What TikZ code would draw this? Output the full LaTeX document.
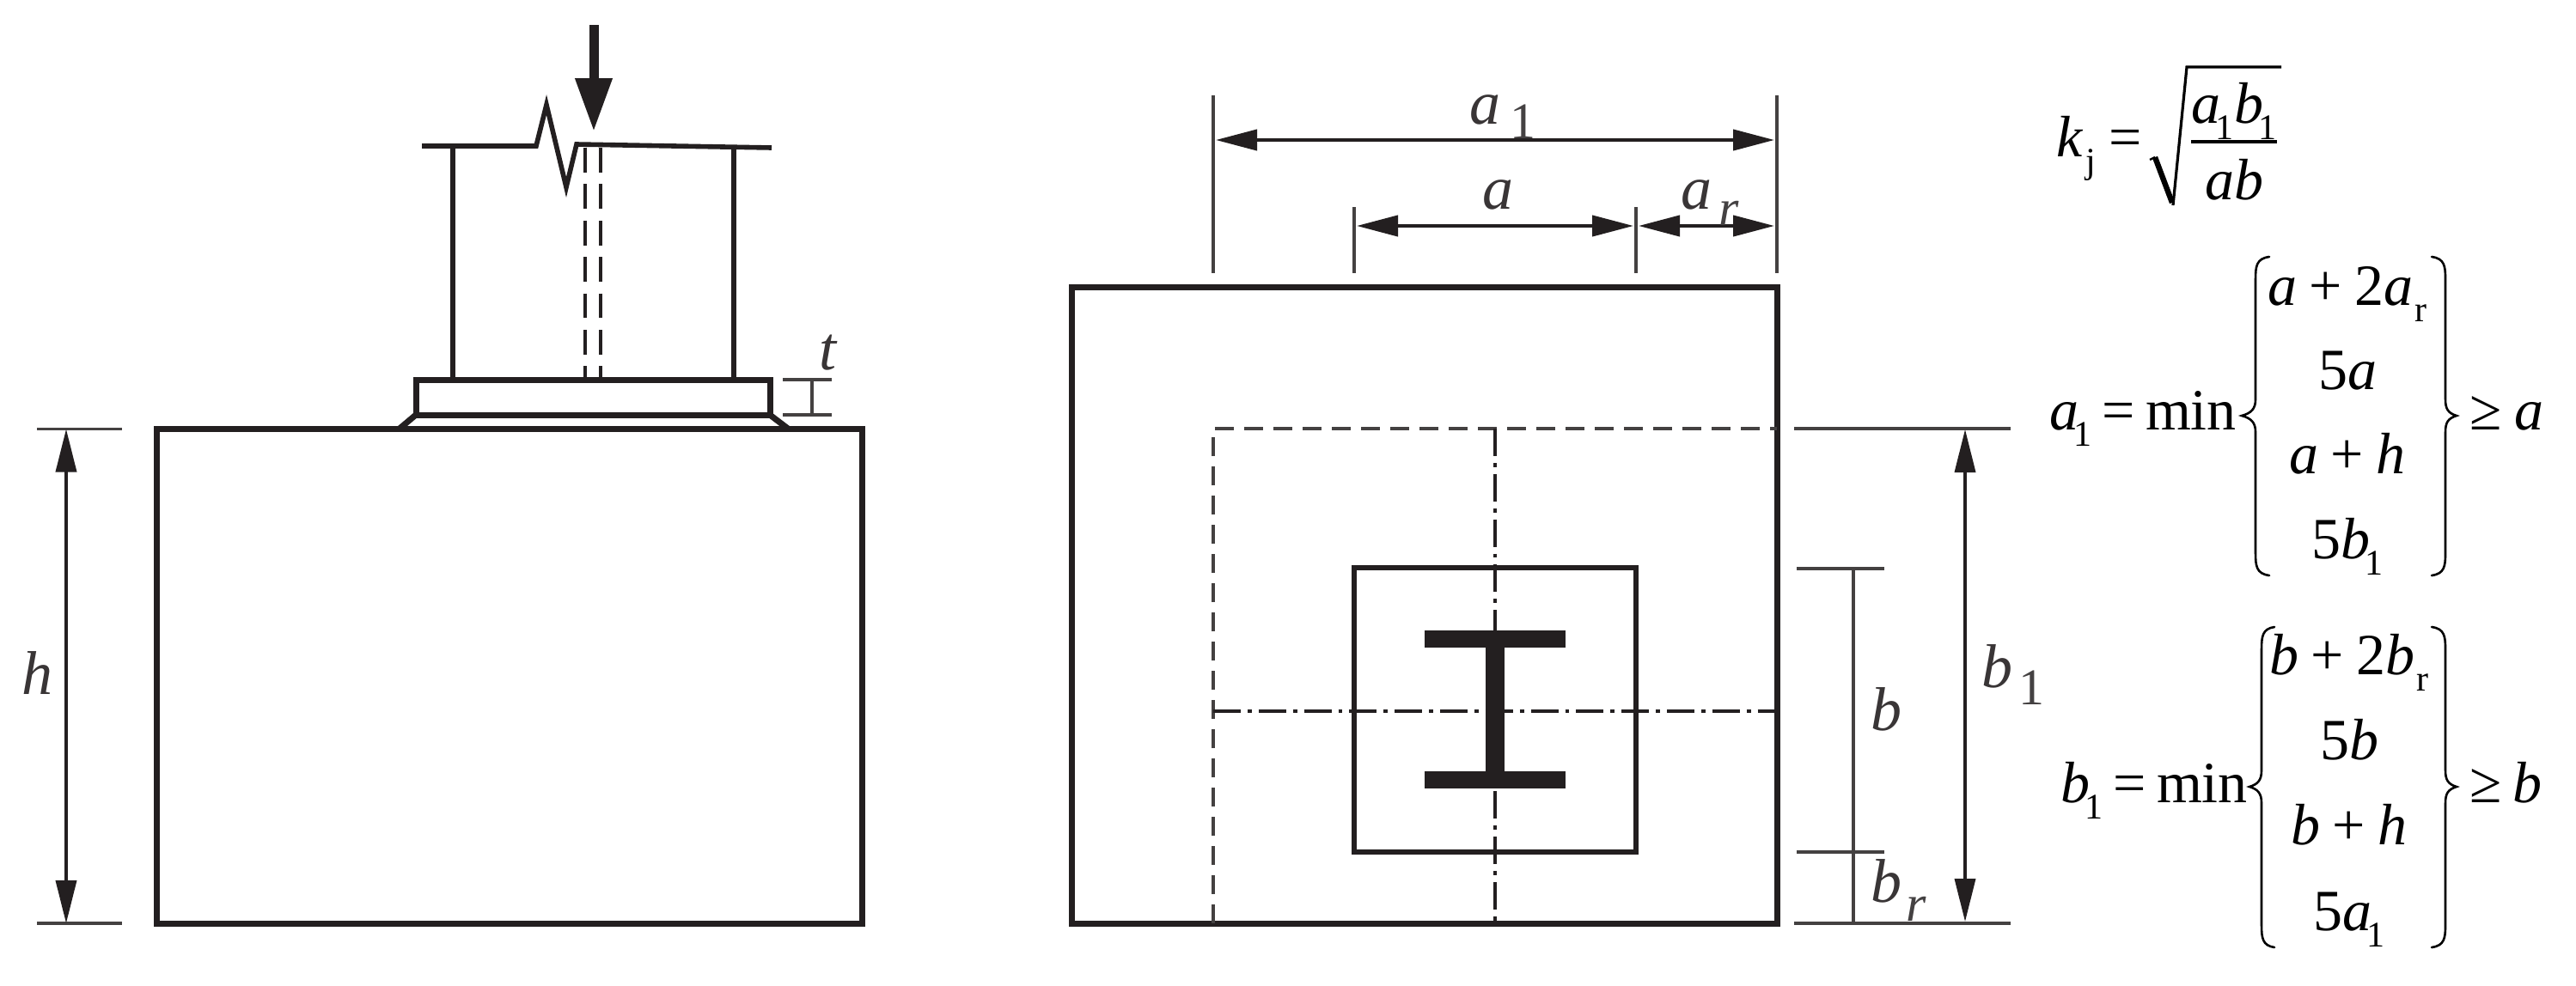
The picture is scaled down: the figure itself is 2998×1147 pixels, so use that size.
\documentclass[tikz,border=0pt]{standalone}
\usepackage{fontspec}
\setmainfont{Liberation Serif}
\usetikzlibrary{arrows.meta}
\definecolor{ink}{HTML}{231F20}
\newcommand{\sbs}[1]{\kern-0.09em\raisebox{-0.28em}{\fontsize{10.5}{10.5}\selectfont #1}}
\newcommand{\sbr}[1]{\kern0.03em\raisebox{-0.28em}{\fontsize{10.5}{10.5}\selectfont #1}}
\newcommand{\gp}{\kern0.21em}
\tikzset{
  heavy/.style={draw=ink,line width=1.75pt,line join=miter},
  medium/.style={draw=ink,line width=1.4pt},
  fine/.style={draw=ink!85,line width=0.9pt},
  hid/.style={draw=ink,line width=0.95pt,dash pattern=on 7.2pt off 3.4pt},
  hidtop/.style={draw=ink!85,line width=1.1pt,dash pattern=on 5.5pt off 3pt},
  axisline/.style={draw=ink,line width=0.8pt,dash pattern=on 8pt off 2pt on 1.2pt off 2pt},
  dimsolid/.style={draw=ink,line width=1.05pt,{Triangle[length=12pt,width=6pt]}-{Triangle[length=12pt,width=6pt]}},
  dimthin/.style={draw=ink,line width=0.9pt,{Triangle[length=12.5pt,width=6pt]}-{Triangle[length=12.5pt,width=6pt]}},
  lbl/.style={inner sep=0pt,anchor=base west,text=ink!90,font=\fontsize{18}{18}\selectfont},
  lblsub/.style={inner sep=0pt,anchor=base west,text=ink!85,font=\fontsize{15}{15}\selectfont},
  eqn/.style={inner sep=0pt,anchor=base west,text=black,font=\fontsize{17}{20}\selectfont},
  eqrow/.style={inner sep=0pt,anchor=base,text=black,font=\fontsize{17}{20}\selectfont},
  bracep/.style={draw=black,line width=0.65pt,line cap=round},
}
\begin{document}
\begin{tikzpicture}[x=0.25pt,y=-0.25pt]
\useasboundingbox (0,0) rectangle (2998,1147);
\fill[white] (0,0) rectangle (2998,1147);
% left elevation
\draw[heavy] (182,1075) rectangle (1003,499.5);
\draw[heavy] (484,442) rectangle (896,483);
\draw[heavy] (484,483) -- (465,499);
\draw[heavy] (896,483) -- (917,499);
\draw[medium] (527,171) -- (527,442);
\draw[medium] (854,172) -- (854,442);
\draw[hid] (681,172) -- (681,442);
\draw[hid] (699,172) -- (699,442);
\draw[medium,line join=miter] (491,170) -- (624,170) -- (636,122) -- (659,218) -- (671,168) -- (898,172);
\draw[draw=ink,line width=2.75pt,-{Triangle[length=15.5pt,width=10.2pt]}] (691,29) -- (691,153);
% t dim
\draw[fine] (911,442) -- (968,442);
\draw[fine] (911,483) -- (968,483);
\draw[fine] (945,442) -- (945,483);
\node[lbl] (tlab) at (953,430) {\textit{t}};
% h dim
\draw[fine] (43,499.5) -- (142,499.5);
\draw[fine] (43,1075) -- (142,1075);
\draw[dimthin] (77,499.5) -- (77,1075);
\node[lbl] (hlab) at (25,808) {\textit{h}};
% right plan
\draw[heavy] (1247,334) rectangle (2068,1075);
\draw[hidtop] (1412,1075) -- (1412,499) -- (2068,499);
\draw[axisline] (1740,499) -- (1740,1075);
\draw[axisline] (1412,828) -- (2068,828);
\draw[medium] (1576,661) rectangle (1904,992);
\fill[ink] (1658,734) rectangle (1822,754);
\fill[ink] (1658,898) rectangle (1822,918);
\fill[ink] (1729,744) rectangle (1751,908);
% a dims
\draw[fine] (1412,111) -- (1412,318);
\draw[fine] (2068,111) -- (2068,318);
\draw[fine] (1576,241) -- (1576,318);
\draw[fine] (1904,241) -- (1904,318);
\draw[dimsolid] (1415,163) -- (2065,163);
\draw[dimsolid] (1579,263) -- (1901,263);
\draw[dimsolid] (1907,263) -- (2065,263);
\node[lbl] (a1lab) at (1710,144) {\textit{a}};
\node[lblsub] (a1sub) at (1757,161) {1};
\node[lbl] (alab) at (1725,243) {\textit{a}};
\node[lbl] (arlab) at (1956,243) {\textit{a}};
\node[lblsub] (arsub) at (2000,262) {\textit{r}};
% b dims
\draw[fine] (2088,499) -- (2340,499);
\draw[fine] (2088,1075) -- (2340,1075);
\draw[fine] (2091,662) -- (2193,662);
\draw[fine] (2091,992) -- (2193,992);
\draw[fine] (2157,662) -- (2157,1075);
\draw[dimthin] (2287,500) -- (2287,1073);
\node[lbl] (blab) at (2177,850) {\textit{b}};
\node[lbl] (b1lab) at (2306,800) {\textit{b}};
\node[lblsub] (b1sub) at (2349,820) {1};
\node[lbl] (brlab) at (2177,1050) {\textit{b}};
\node[lblsub] (brsub) at (2218,1072) {\textit{r}};
% kj formula
\node[eqn] (kj) at (2393,182) {\textit{k}\sbr{j}\kern4pt =};
\draw[draw=black,line width=0.6pt] (2502,186) -- (2508,183);
\draw[draw=black,line width=1.6pt,line join=miter] (2508,183) -- (2528,236);
\draw[draw=black,line width=0.8pt,line join=miter] (2529,239) -- (2545,78) -- (2655,78);
\node[eqrow] (kjnum) at (2600,143) {\textit{a}\sbs{1}\kern0.02em\textit{b}\sbs{1}};
\draw[draw=black,line width=0.95pt] (2550,165) -- (2650,165);
\node[eqrow] (kjden) at (2600,232) {\textit{ab}};
% a1 formula
\node[eqn] (a1lhs) at (2385,500) {\textit{a}\sbs{1}\kern3pt =\kern3pt min};
\draw[bracep] (2641,299) .. controls (2626,301) and (2625,310) .. (2625,325) -- (2625,465) .. controls (2625,476) and (2620,481) .. (2609,484) .. controls (2620,487) and (2625,492) .. (2625,503) -- (2625,644) .. controls (2625,659) and (2626,668) .. (2641,670);
\node[eqrow] (a1r1) at (2732,355) {\textit{a}\gp+\gp 2\textit{a}\sbr{r}};
\node[eqrow] (a1r2) at (2732,453) {5\textit{a}};
\node[eqrow] (a1r3) at (2732,551) {\textit{a}\gp+\gp\textit{h}};
\node[eqrow] (a1r4) at (2732,650) {5\textit{b}\sbs{1}};
\draw[bracep] (2830,299) .. controls (2845,301) and (2846,310) .. (2846,325) -- (2846,465) .. controls (2846,476) and (2849,481) .. (2859,484) .. controls (2849,487) and (2846,492) .. (2846,503) -- (2846,644) .. controls (2846,659) and (2845,668) .. (2830,670);
\node[eqn] (a1rhs) at (2874,500) {≥\kern3.6pt\textit{a}};
% b1 formula
\node[eqn] (b1lhs) at (2398,934) {\textit{b}\sbs{1}\kern3pt =\kern3pt min};
\draw[bracep] (2647,730) .. controls (2633,732) and (2632,741) .. (2632,756) -- (2632,897) .. controls (2632,908) and (2628,913) .. (2618,916) .. controls (2628,919) and (2632,924) .. (2632,935) -- (2632,1077) .. controls (2632,1092) and (2633,1101) .. (2647,1103);
\node[eqrow] (b1r1) at (2734,785) {\textit{b}\gp+\gp 2\textit{b}\sbr{r}};
\node[eqrow] (b1r2) at (2734,884) {5\textit{b}};
\node[eqrow] (b1r3) at (2734,983) {\textit{b}\gp+\gp\textit{h}};
\node[eqrow] (b1r4) at (2734,1083) {5\textit{a}\sbs{1}};
\draw[bracep] (2830,730) .. controls (2845,732) and (2846,741) .. (2846,756) -- (2846,897) .. controls (2846,908) and (2849,913) .. (2859,916) .. controls (2849,919) and (2846,924) .. (2846,935) -- (2846,1077) .. controls (2846,1092) and (2845,1101) .. (2830,1103);
\node[eqn] (b1rhs) at (2874,934) {≥\kern3.2pt\textit{b}};
\end{tikzpicture}
\end{document}
